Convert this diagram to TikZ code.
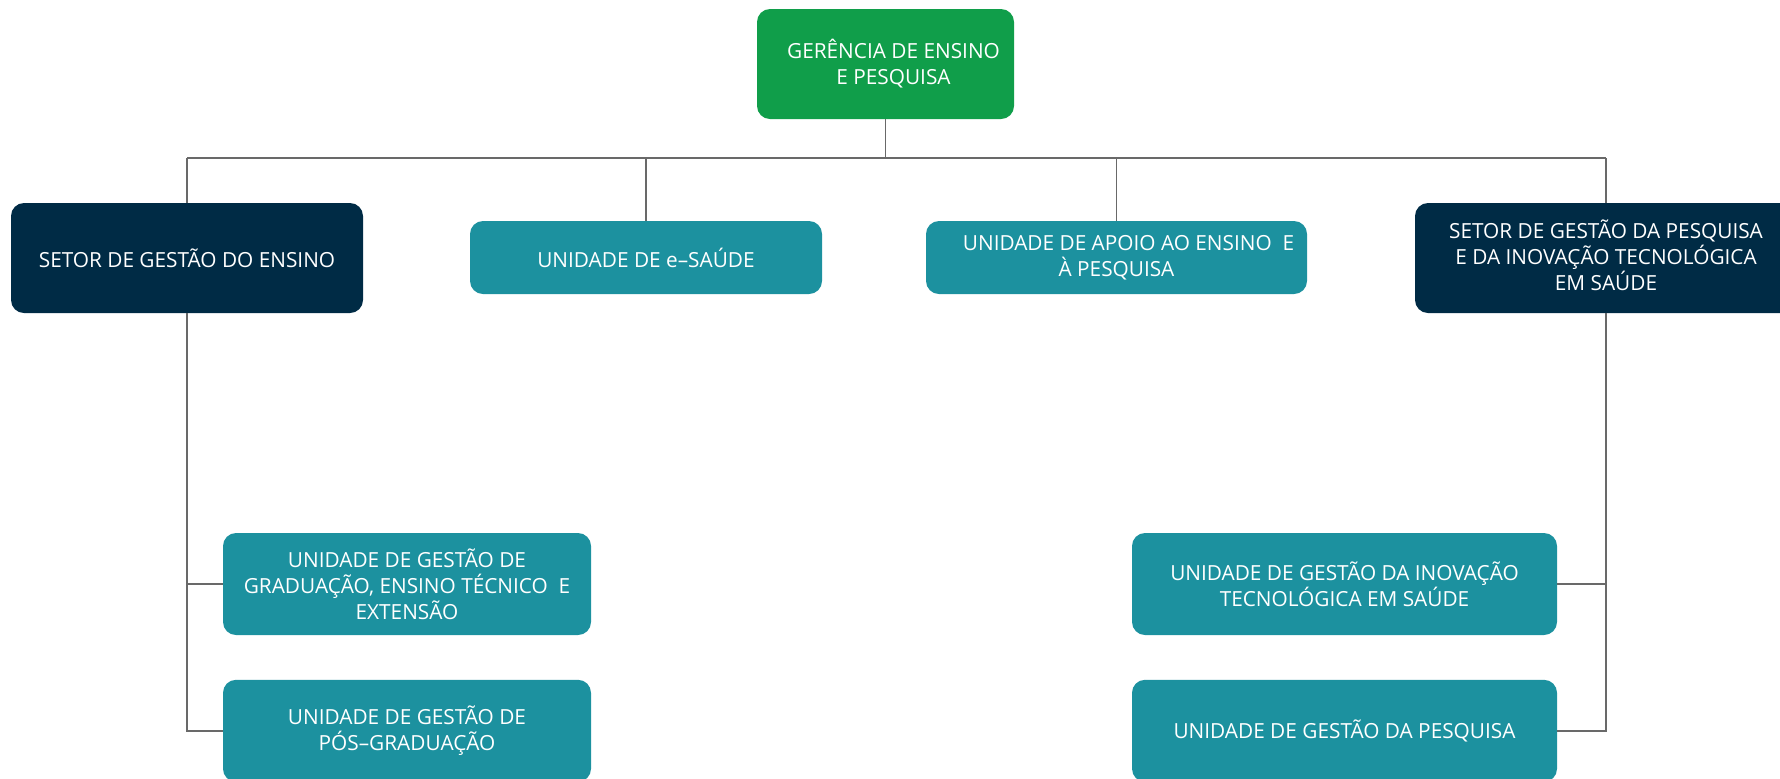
\documentclass[tikz,border=0pt]{standalone}
\usepackage{fontspec}
\setmainfont{Open Sans}
\usepackage{xcolor}
\usetikzlibrary{positioning}

\definecolor{gerGreen}{RGB}{16,158,74}
\definecolor{setorNavy}{RGB}{0,43,69}
\definecolor{unidTeal}{RGB}{28,145,159}
\definecolor{linkGray}{RGB}{105,105,105}

\tikzset{
  orgbox/.style={rounded corners=6.5pt,text=white,align=center,inner sep=0pt,
    font=\fontsize{10.4}{13}\selectfont},
  gerbox/.style={orgbox,fill=gerGreen},
  setorbox/.style={orgbox,fill=setorNavy,minimum height=55pt},
  unidbox/.style={orgbox,fill=unidTeal},
  link/.style={draw=linkGray,line width=0.7pt}
}

\begin{document}
\begin{tikzpicture}[x=0.5pt,y=-0.5pt]
		\useasboundingbox (0,0) rectangle (1780,778);
		\clip (0,0) rectangle (1780,778);
		% top level
		\node[gerbox,minimum width=128.5pt,minimum height=55pt] (ger) at (885.5,64)
		  {\hspace*{8pt}GERÊNCIA DE ENSINO\\\hspace*{8pt}E PESQUISA};
		% setores and unidades of the second row
		\begin{scope}[every node/.style={minimum height=36.5pt}]
		    \node[setorbox,minimum width=176pt] (sEns) at (187,258) {SETOR DE GESTÃO DO ENSINO};
		    \node[unidbox,minimum width=176pt] (uSaude) at (646,257.5) {UNIDADE DE e–SAÚDE};
		    \node[unidbox,minimum width=190.5pt] (uApoio) at (1116.5,257.5)
		      {\hspace*{12pt}UNIDADE DE APOIO AO ENSINO~~E\\À PESQUISA};
		    \node[setorbox,minimum width=191pt] (sPesq) at (1606,258)
		      {SETOR DE GESTÃO DA PESQUISA\\E DA INOVAÇÃO TECNOLÓGICA\\EM SAÚDE\vphantom{p}};
		\end{scope}
		% unidades under the setores
		\begin{scope}[every node/.style={unidbox,minimum height=51pt}]
		    \node[minimum width=184pt] (uGrad) at (407,584)
		      {UNIDADE DE GESTÃO DE\\GRADUAÇÃO, ENSINO TÉCNICO~~E\\EXTENSÃO};
		    \node[minimum width=184pt,below=22pt of uGrad] (uPos)
		      {UNIDADE DE GESTÃO DE\\PÓS–GRADUAÇÃO};
		    \node[minimum width=212.5pt] (uInov) at (1344.5,584)
		      {UNIDADE DE GESTÃO DA INOVAÇÃO\\TECNOLÓGICA EM SAÚDE};
		    \node[minimum width=212.5pt,below=22pt of uInov] (uPesq)
		      {UNIDADE DE GESTÃO DA PESQUISA};
		\end{scope}
		% connectors
		\coordinate (bus) at (885.5,158);
		\begin{scope}[every path/.style={link}]
		    \path (ger.south) edge (ger |- bus);
		    \path (sEns.north) edge (sEns |- bus);
		    \path (sEns |- bus) edge (sPesq |- bus);
		    \path (sPesq.north) edge (sPesq |- bus);
		    \path (uSaude.north) edge (uSaude |- bus);
		    \path (uApoio.north) edge (uApoio |- bus);
		    \draw (sEns.south) |- (uGrad.west);
		    \draw (sEns.south) |- (uPos.west);
		    \draw (sPesq.south) |- (uInov.east);
		    \draw (sPesq.south) |- (uPesq.east);
		\end{scope}
\end{tikzpicture}
\end{document}
